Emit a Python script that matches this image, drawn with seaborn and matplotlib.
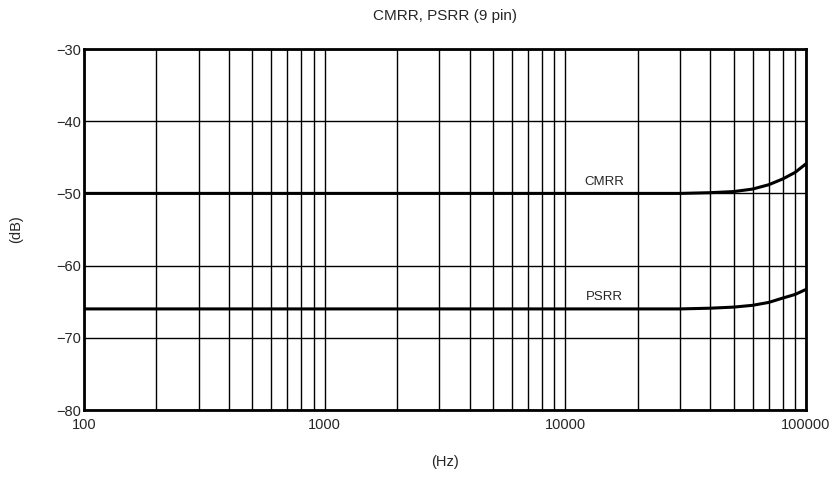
import numpy as np
import matplotlib.pyplot as plt
import seaborn as sns
import pandas as pd
from matplotlib.ticker import FixedLocator, NullFormatter

sns.set_style("white")
plt.rcParams['font.family'] = ['Liberation Sans', 'DejaVu Sans']

# 주파수 (Hz) 및 응답 (dB)
freq = [100, 1000, 10000, 20000, 30000, 40000, 50000, 60000, 70000, 80000, 90000, 100000]
cmrr = [-50.0, -50.0, -50.0, -50.0, -50.0, -49.9, -49.75, -49.4, -48.8, -48.0, -47.1, -45.9]
psrr = [-66.0, -66.0, -66.0, -66.0, -66.0, -65.9, -65.75, -65.5, -65.1, -64.5, -64.0, -63.3]

df = pd.DataFrame({'freq': freq * 2,
                   'db': cmrr + psrr,
                   'name': ['CMRR'] * len(freq) + ['PSRR'] * len(freq)})

fig = plt.figure(figsize=(8.34, 4.79), dpi=100)
ax = fig.add_axes([84 / 834, 1 - 410 / 479, 722 / 834, 361 / 479])

sns.lineplot(data=df, x='freq', y='db', units='name', estimator=None,
             color='black', linewidth=2.2, ax=ax, legend=False)

ax.set_xscale('log')
ax.set_xlim(100, 100000)
ax.set_ylim(-80, -30)

ax.xaxis.set_major_locator(FixedLocator([100, 1000, 10000, 100000]))
minors = [m * d for d in [100, 1000, 10000] for m in range(2, 10)]
ax.xaxis.set_minor_locator(FixedLocator(minors))
ax.xaxis.set_minor_formatter(NullFormatter())
ax.set_xticklabels(['100', '1000', '10000', '100000'])
ax.set_yticks([-80, -70, -60, -50, -40, -30])
ax.set_yticklabels(['\u221280', '\u221270', '\u221260', '\u221250', '\u221240', '\u221230'])

ax.grid(True, which='both', color='black', linewidth=1.0)
ax.tick_params(which='both', length=0, labelsize=10.5)
ax.tick_params(axis='y', pad=2)
ax.tick_params(axis='x', pad=6)
for s in ax.spines.values():
    s.set_linewidth(2)
    s.set_color('black')

ax.text(14500, -49.2, 'CMRR', fontsize=9.5, ha='center', va='bottom')
ax.text(14500, -65.2, 'PSRR', fontsize=9.5, ha='center', va='bottom')

ax.set_title('CMRR, PSRR (9 pin)', fontsize=11, pad=21)
ax.set_xlabel('(Hz)', fontsize=10.5, labelpad=16)
ax.set_ylabel('(dB)', fontsize=10.5, labelpad=24)

plt.savefig('out.png', dpi=100)
